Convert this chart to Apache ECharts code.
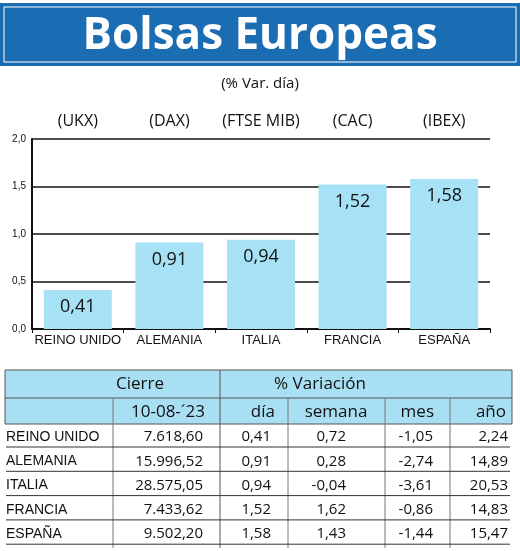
<!DOCTYPE html>
<html><head><meta charset="utf-8">
<script src="https://cdn.jsdelivr.net/npm/echarts@6/dist/echarts.min.js"></script>
<style>html,body{margin:0;padding:0;background:#fff}#c{width:520px;height:551px}</style>
</head><body><div id="c"></div>
<script>
const categories=['REINO UNIDO','ALEMANIA','ITALIA','FRANCIA','ESPAÑA'];
const indices=['(UKX)','(DAX)','(FTSE MIB)','(CAC)','(IBEX)'];
const dayValues=[0.41,0.91,0.94,1.52,1.58];
const dayLabels=['0,41','0,91','0,94','1,52','1,58'];
const cierre=['7.618,60','15.996,52','28.575,05','7.433,62','9.502,20'];
const semana=['0,72','0,28','-0,04','1,62','1,43'];
const mes=['-1,05','-2,74','-3,61','-0,86','-1,44'];
const anio=['2,24','14,89','20,53','14,83','15,47'];
const yTicks=['0,0','0,5','1,0','1,5','2,0'];

const F="'Liberation Sans Narrow','Liberation Sans',sans-serif";
const FR="'Open Sans','Liberation Sans',sans-serif";
const ch=echarts.init(document.getElementById('c'));
const g=[];
g.push({type:'rect',shape:{x:0,y:3,width:520,height:63},style:{fill:'#1b6db3'}});
g.push({type:'rect',shape:{x:4,y:7,width:512,height:55},style:{fill:'none',stroke:'#fff',lineWidth:1}});
g.push({type:'text',x:260,y:36,style:{text:'Bolsas Europeas',fill:'#fff',font:"bold 44px "+FR,textAlign:'center',textVerticalAlign:'middle'}});
g.push({type:'text',x:260,y:84,style:{text:'(% Var. día)',fill:'#111',font:"15px "+FR,textAlign:'center',textVerticalAlign:'middle'}});
g.push({type:'rect',shape:{x:5,y:370,width:507,height:54},style:{fill:'#a9dff3'}});
[370,398,424].forEach(y=>g.push({type:'line',shape:{x1:5,y1:y,x2:512,y2:y},style:{stroke:'#555',lineWidth:1}}));
g.push({type:'line',shape:{x1:5,y1:370,x2:5,y2:424},style:{stroke:'#555',lineWidth:1}});
g.push({type:'line',shape:{x1:512,y1:370,x2:512,y2:424},style:{stroke:'#555',lineWidth:1}});
g.push({type:'line',shape:{x1:220,y1:370,x2:220,y2:548},style:{stroke:'#555',lineWidth:1}});
[113,288,385,450].forEach(x=>g.push({type:'line',shape:{x1:x,y1:398,x2:x,y2:548},style:{stroke:'#777',lineWidth:1}}));
const tf="500 17px "+FR;
g.push({type:'text',x:140,y:384,style:{text:'Cierre',fill:'#111',font:tf,textAlign:'center',textVerticalAlign:'middle'}});
g.push({type:'text',x:320,y:384,style:{text:'% Variación',fill:'#111',font:tf,textAlign:'center',textVerticalAlign:'middle'}});
const hdr=['10-08-´23','día','semana','mes','año'];
const hx=[205,275,336,434,506];
const ha=['right','right','center','right','right'];
hdr.forEach((t,i)=>g.push({type:'text',x:hx[i],y:412,style:{text:t,fill:'#111',font:"17px "+FR,textAlign:ha[i],textVerticalAlign:'middle'}}));
const rf="15px "+FR;
categories.forEach((c,r)=>{
  const y=437+r*24.3;
  const vals=[cierre[r],dayLabels[r],semana[r],mes[r],anio[r]];
  const vx=[203,271,346,433,508];
  g.push({type:'text',x:6,y:y,style:{text:c,fill:'#111',font:"14px "+F,textAlign:'left',textVerticalAlign:'middle'}});
  vals.forEach((v,i)=>g.push({type:'text',x:vx[i],y:y,style:{text:v,fill:'#111',font:rf,textAlign:'right',textVerticalAlign:'middle'}}));
  g.push({type:'line',shape:{x1:6,y1:y+10,x2:510,y2:y+10},style:{stroke:'#333',lineWidth:1}});
});
ch.setOption({
  animation:false,
  grid:{left:32,right:30,top:139,bottom:222},
  xAxis:[{type:'category',data:categories,axisTick:{show:true,length:4,lineStyle:{color:'#111'}},
    axisLine:{lineStyle:{color:'#111',width:2}},axisLabel:{interval:0,color:'#111',fontSize:13,fontFamily:F,margin:5}},
   {type:'category',data:indices,position:'top',axisLine:{show:false},axisTick:{show:false},
    axisLabel:{interval:0,color:'#111',fontSize:16,fontFamily:FR,margin:10}}],
  yAxis:{type:'value',min:0,max:2,interval:0.5,axisLine:{show:true,lineStyle:{color:'#111',width:2}},
    splitLine:{lineStyle:{color:'#111',width:1.5}},
    axisLabel:{color:'#111',fontSize:10,fontFamily:F,margin:6,formatter:(v,i)=>yTicks[i]}},
  series:[{type:'bar',data:dayValues,barWidth:68,itemStyle:{color:'#a6e1f5'},z:3,
    label:{show:true,position:'insideTop',distance:8,color:'#111',fontSize:18,fontWeight:500,fontFamily:FR,formatter:p=>dayLabels[p.dataIndex]}}],
  graphic:g
});
</script></body></html>
